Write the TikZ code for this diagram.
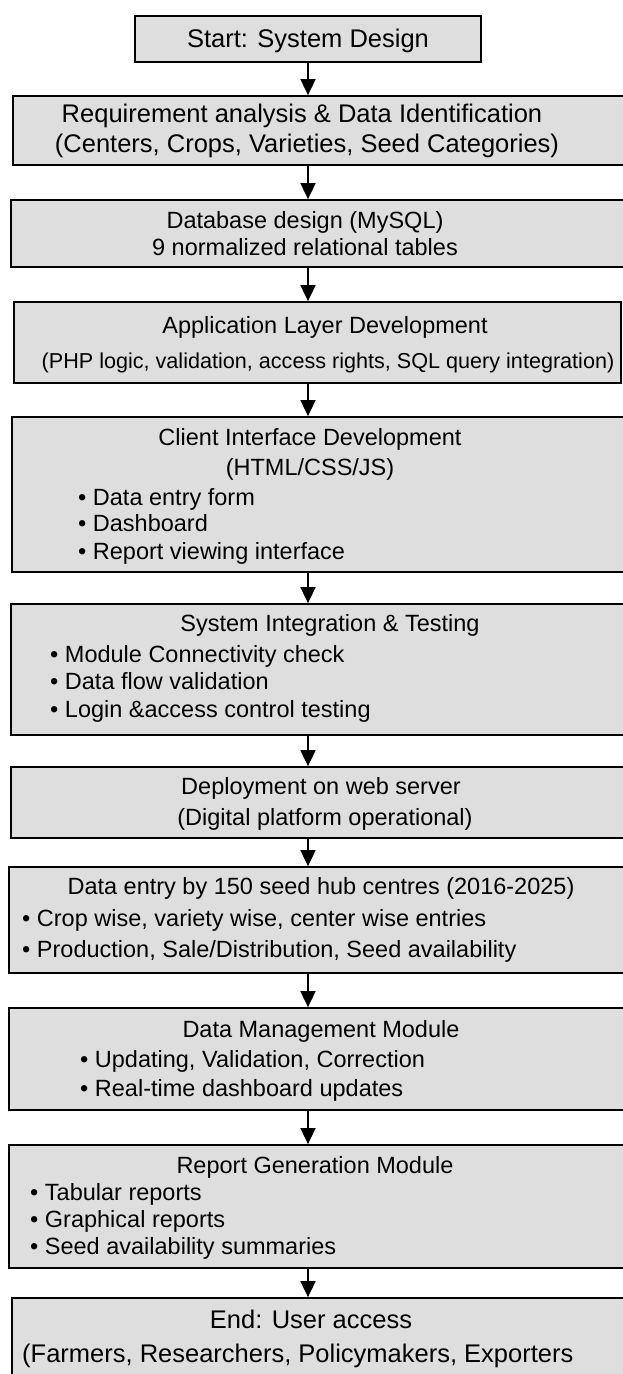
\documentclass[tikz,border=0pt]{standalone}
\usepackage{fontspec}
\setmainfont{Liberation Sans}
\usetikzlibrary{arrows.meta}
\definecolor{boxfill}{RGB}{222,222,222}
\tikzset{
  stage/.style={draw=black, line width=1.8pt, fill=boxfill, inner sep=0pt},
  bigtxt/.style={font=\fontsize{25.5}{30}\selectfont, anchor=base, inner sep=0pt},
  txt/.style={font=\fontsize{23.5}{28}\selectfont, anchor=base, inner sep=0pt},
  smalltxt/.style={font=\fontsize{21.6}{26}\selectfont, anchor=base, inner sep=0pt},
  item/.style={txt, anchor=base west},
  flow/.style={line width=1.8pt, -{Triangle[width=15pt,length=16pt]}}
}
\begin{document}
\begin{tikzpicture}[x=1pt, y=-1pt]
\useasboundingbox (0,0) rectangle (623,1374);
\clip (0,0) rectangle (623,1374);

% stage boxes
\node[stage, minimum width=346pt, minimum height=46pt] (b1) at (308,39) {};
\node[stage, minimum width=619pt, minimum height=69pt] (b2) at (322.5,130.5) {};
\node[stage, minimum width=621pt, minimum height=67pt] (b3) at (321.5,233.5) {};
\node[stage, minimum width=607pt, minimum height=81pt] (b4) at (317.5,342.5) {};
\node[stage, minimum width=620pt, minimum height=155pt] (b5) at (322,494.5) {};
\node[stage, minimum width=621pt, minimum height=131pt] (b6) at (321.5,669.5) {};
\node[stage, minimum width=621pt, minimum height=71pt] (b7) at (321.5,802.5) {};
\node[stage, minimum width=623pt, minimum height=106pt] (b8) at (320.5,920) {};
\node[stage, minimum width=623pt, minimum height=102pt] (b9) at (320.5,1059) {};
\node[stage, minimum width=623pt, minimum height=123pt] (b10) at (320.5,1206.5) {};
\node[stage, minimum width=620pt, minimum height=92pt] (b11) at (322,1344) {};

% arrows along one column
\coordinate (ax) at (308,0);
\foreach \a/\b in {b1/b2,b2/b3,b3/b4,b4/b5,b5/b6,b6/b7,b7/b8,b8/b9,b9/b10,b10/b11}
  \draw[flow] (\a.south -| ax) -- (\b.north -| ax);

% texts
\node[bigtxt] (t1) at (308,47.2) {Start: System Design};

\node[bigtxt] (t2a) at (302,122) {Requirement analysis \& Data Identification};
\node[bigtxt] (t2b) at (307,152) {(Centers, Crops, Varieties, Seed Categories)};

\node[txt] (t3a) at (305,228.5) {Database design (MySQL)};
\node[txt] (t3b) at (305,255.5) {9 normalized relational tables};

\node[txt] (t4a) at (325,333.5) {Application Layer Development};
\node[smalltxt] (t4b) at (328,368) {(PHP logic, validation, access rights, SQL query integration)};

\node[txt] (t5a) at (310,445.5) {Client Interface Development};
\node[txt] (t5b) at (310,475.5) {(HTML/CSS/JS)};
\node[item] (t5c) at (78,505.5) {• Data entry form};
\node[item] (t5d) at (78,531.5) {• Dashboard};
\node[item] (t5e) at (78,559.5) {• Report viewing interface};

\node[txt] (t6a) at (330,631.5) {System Integration \& Testing};
\node[item] (t6b) at (50,662.5) {• Module Connectivity check};
\node[item] (t6c) at (50,689.5) {• Data flow validation};
\node[item] (t6d) at (50,717.5) {• Login \&access control testing};

\node[txt] (t7a) at (321,794.5) {Deployment on web server};
\node[txt] (t7b) at (325,825.5) {(Digital platform operational)};

\node[txt] (t8a) at (321,894.5) {Data entry by 150 seed hub centres (2016-2025)};
\node[item] (t8b) at (22,926.5) {• Crop wise, variety wise, center wise entries};
\node[item] (t8c) at (22,957.5) {• Production, Sale/Distribution, Seed availability};

\node[txt] (t9a) at (321,1037.5) {Data Management Module};
\node[item] (t9b) at (80,1067.5) {• Updating, Validation, Correction};
\node[item] (t9c) at (80,1096.5) {• Real-time dashboard updates};

\node[txt] (t10a) at (315,1173.5) {Report Generation Module};
\node[item] (t10b) at (30,1200.5) {• Tabular reports};
\node[item] (t10c) at (30,1227.5) {• Graphical reports};
\node[item] (t10d) at (30,1254.5) {• Seed availability summaries};

\node[bigtxt] (t11a) at (311,1328.2) {End: User access};
\node[bigtxt, anchor=base west] (t11b) at (22,1362.2) {(Farmers, Researchers, Policymakers, Exporters};
\end{tikzpicture}
\end{document}
